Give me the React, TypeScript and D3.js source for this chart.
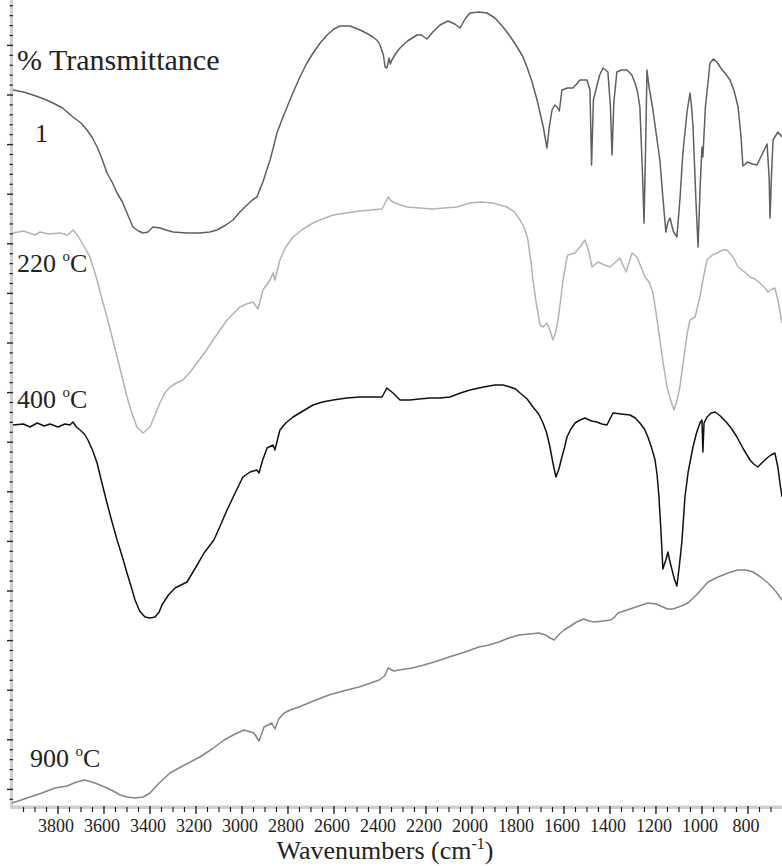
import { useEffect, useRef } from 'react'
import * as d3 from 'd3'

// x axis tick labels (cm-1)
const majorWavenumbers = [3800, 3600, 3400, 3200, 3000, 2800, 2600, 2400, 2200, 2000, 1800, 1600, 1400, 1200, 1000, 800]

// [wavenumber, transmittance (offset, a.u.)]
const sample1: [number, number][] = [
  [3996, 71.7], [3950, 71.5], [3909, 71.2], [3860, 70.8], [3822, 70.4], [3780, 69.9], [3735, 69.0],
  [3700, 68.4], [3674, 67.7], [3650, 66.9], [3630, 66.0], [3610, 64.9], [3587, 63.4], [3565, 62.5],
  [3543, 61.4], [3520, 60.5], [3500, 59.4], [3474, 58.0], [3450, 57.6], [3430, 57.4], [3409, 57.5],
  [3387, 58.0], [3357, 57.9], [3330, 57.7], [3300, 57.5], [3239, 57.4], [3183, 57.4], [3140, 57.5],
  [3109, 57.7], [3070, 58.2], [3039, 58.7], [3005, 59.6], [2978, 60.2], [2955, 60.7], [2935, 61.0],
  [2920, 61.9], [2909, 62.5], [2895, 63.5], [2878, 64.7], [2862, 66.1], [2848, 67.4], [2825, 68.8],
  [2804, 70.0], [2775, 71.6], [2748, 73.0], [2720, 74.3], [2691, 75.4], [2660, 76.4], [2630, 77.2],
  [2600, 77.8], [2574, 78.1], [2530, 78.1], [2487, 77.7], [2460, 77.4], [2430, 77.0], [2410, 76.6],
  [2400, 76.2], [2385, 75.2], [2378, 74.0], [2370, 73.9], [2360, 74.9], [2355, 74.3], [2348, 74.7],
  [2330, 75.4], [2313, 75.9], [2280, 76.6], [2239, 77.2], [2220, 77.2], [2196, 76.8], [2170, 77.5],
  [2139, 78.2], [2104, 78.6], [2075, 78.3], [2052, 77.9], [2030, 78.8], [2009, 79.4], [1970, 79.5],
  [1935, 79.4], [1900, 78.9], [1865, 78.0], [1835, 77.1], [1804, 76.0], [1780, 75.1], [1761, 74.0],
  [1740, 72.6], [1717, 70.7], [1700, 69.0], [1690, 68.0], [1674, 65.9], [1665, 67.8], [1652, 69.7],
  [1640, 70.2], [1630, 70.0], [1620, 69.6], [1609, 71.7], [1585, 71.9], [1561, 71.9], [1545, 72.3],
  [1530, 72.7], [1500, 72.7], [1487, 71.7], [1480, 64.2], [1472, 70.7], [1445, 73.2], [1430, 73.9],
  [1409, 73.5], [1398, 70.0], [1391, 65.2], [1383, 70.5], [1370, 73.5], [1350, 73.7], [1326, 73.7],
  [1305, 73.2], [1291, 72.4], [1280, 71.5], [1270, 70.0], [1258, 63.0], [1252, 58.4], [1245, 66.0],
  [1239, 73.7], [1230, 72.0], [1213, 69.7], [1200, 67.5], [1183, 64.7], [1170, 61.0], [1157, 57.5],
  [1148, 58.5], [1139, 58.9], [1125, 57.6], [1109, 57.0], [1095, 61.0], [1083, 65.4], [1065, 69.5],
  [1052, 71.4], [1045, 70.0], [1039, 68.0], [1025, 60.0], [1017, 56.0], [1008, 62.0], [1000, 66.0],
  [996, 65.0], [985, 70.0], [965, 74.4], [950, 74.8], [935, 74.5], [915, 73.8], [900, 73.4],
  [878, 72.7], [860, 71.6], [843, 70.0], [830, 67.0], [822, 64.1], [810, 64.3], [804, 64.5],
  [780, 64.3], [761, 64.2], [740, 65.2], [717, 66.3], [708, 63.0], [704, 58.9], [698, 63.0],
  [691, 66.7], [670, 67.5], [652, 67.0]
]

const sample220: [number, number][] = [
  [3996, 57.4], [3950, 57.6], [3900, 57.2], [3878, 57.5], [3840, 57.3], [3791, 57.4], [3760, 57.2],
  [3748, 57.4], [3735, 57.7], [3713, 57.1], [3683, 55.9], [3661, 55.0], [3630, 52.7], [3610, 50.9],
  [3587, 49.0], [3565, 47.0], [3543, 45.0], [3520, 42.9], [3500, 41.0], [3480, 39.5], [3457, 38.0],
  [3430, 37.4], [3400, 38.0], [3380, 39.1], [3357, 40.4], [3335, 41.4], [3313, 42.0], [3285, 42.4],
  [3257, 42.7], [3225, 43.5], [3196, 44.4], [3160, 45.5], [3126, 46.7], [3095, 47.7], [3065, 48.7],
  [3035, 49.4], [3009, 50.0], [2980, 50.3], [2952, 50.5], [2930, 49.8], [2909, 51.7], [2878, 52.7],
  [2865, 53.4], [2857, 52.7], [2835, 54.7], [2810, 56.0], [2778, 57.0], [2735, 57.8], [2691, 58.4],
  [2650, 58.8], [2604, 59.2], [2545, 59.4], [2487, 59.6], [2440, 59.7], [2391, 59.8], [2375, 60.5],
  [2365, 61.0], [2350, 60.6], [2335, 60.4], [2283, 60.0], [2230, 59.9], [2170, 59.8], [2120, 59.9],
  [2065, 60.0], [2009, 60.4], [1960, 60.5], [1909, 60.4], [1848, 60.0], [1815, 59.5], [1791, 58.7],
  [1770, 57.8], [1757, 56.7], [1745, 54.8], [1735, 52.7], [1720, 50.3], [1704, 48.2], [1690, 48.0],
  [1674, 48.4], [1660, 47.6], [1648, 46.7], [1636, 47.5], [1626, 48.7], [1615, 50.6], [1604, 52.7],
  [1590, 54.6], [1583, 55.2], [1552, 55.4], [1530, 56.0], [1509, 56.7], [1495, 55.8], [1478, 54.0],
  [1452, 54.5], [1425, 54.2], [1400, 54.0], [1380, 54.4], [1357, 54.9], [1330, 53.5], [1304, 55.4],
  [1283, 55.0], [1265, 54.0], [1248, 53.0], [1230, 52.5], [1213, 51.4], [1200, 49.5], [1183, 46.7],
  [1168, 44.3], [1152, 42.0], [1135, 40.6], [1122, 39.7], [1110, 40.5], [1096, 42.0], [1085, 43.9],
  [1074, 45.7], [1063, 47.5], [1052, 48.7], [1030, 49.0], [1009, 51.0], [995, 52.8], [978, 54.7],
  [955, 55.2], [935, 55.4], [910, 55.7], [891, 55.7], [865, 55.0], [843, 54.0], [815, 53.5],
  [791, 53.0], [770, 52.8], [748, 52.4], [730, 52.0], [713, 51.5], [695, 51.8], [683, 51.9],
  [668, 50.5], [652, 48.4]
]

const sample400: [number, number][] = [
  [3996, 38.2], [3950, 38.3], [3922, 38.0], [3890, 38.4], [3860, 38.1], [3835, 38.3], [3800, 38.0],
  [3770, 38.3], [3748, 38.2], [3735, 38.5], [3720, 38.0], [3704, 37.7], [3685, 37.3], [3670, 36.7],
  [3650, 35.7], [3630, 34.4], [3610, 32.5], [3587, 30.4], [3565, 28.5], [3543, 26.7], [3520, 25.0],
  [3500, 23.4], [3480, 21.9], [3465, 20.7], [3445, 19.6], [3422, 19.0], [3400, 18.9], [3378, 19.0],
  [3360, 19.5], [3348, 20.2], [3320, 21.2], [3291, 21.9], [3265, 22.2], [3239, 22.5], [3200, 24.0],
  [3165, 25.4], [3122, 26.7], [3095, 28.1], [3065, 29.7], [3030, 31.4], [2996, 33.0], [2965, 33.5],
  [2935, 33.7], [2926, 33.4], [2910, 34.7], [2891, 35.9], [2865, 36.2], [2857, 35.7], [2835, 37.7],
  [2810, 38.4], [2778, 39.0], [2735, 39.6], [2691, 40.2], [2650, 40.5], [2604, 40.7], [2545, 40.9],
  [2487, 41.0], [2440, 41.0], [2391, 41.0], [2370, 41.9], [2343, 41.4], [2313, 40.7], [2270, 40.7],
  [2230, 40.8], [2183, 40.9], [2140, 40.9], [2096, 41.0], [2050, 41.4], [2009, 41.7], [1950, 42.0],
  [1900, 42.2], [1865, 42.2], [1835, 42.0], [1810, 41.8], [1791, 41.4], [1760, 40.8], [1735, 40.0],
  [1710, 39.3], [1691, 38.4], [1675, 37.4], [1661, 36.0], [1648, 34.4], [1635, 33.0], [1622, 33.8],
  [1609, 35.0], [1597, 36.0], [1587, 37.0], [1570, 37.8], [1552, 38.4], [1530, 38.7], [1509, 38.9],
  [1480, 38.6], [1457, 38.5], [1435, 38.3], [1413, 38.2], [1400, 38.8], [1387, 39.4], [1350, 39.3],
  [1313, 39.2], [1290, 38.9], [1270, 38.4], [1250, 37.8], [1235, 37.0], [1220, 36.0], [1204, 34.7],
  [1195, 33.2], [1187, 31.0], [1178, 27.5], [1170, 23.8], [1163, 24.3], [1157, 24.7], [1148, 25.5],
  [1140, 24.6], [1130, 23.7], [1120, 22.8], [1109, 22.1], [1098, 24.2], [1087, 26.6], [1074, 31.0],
  [1060, 33.5], [1039, 36.0], [1025, 37.3], [1009, 38.4], [1000, 38.7], [996, 35.5], [991, 38.4],
  [978, 39.0], [960, 39.4], [943, 39.5], [920, 39.1], [891, 38.4], [870, 37.8], [848, 37.0],
  [820, 35.8], [791, 34.7], [775, 34.3], [757, 34.0], [740, 34.4], [717, 34.9], [700, 35.2],
  [683, 35.4], [670, 34.0], [661, 32.4], [652, 31.0]
]

const sample900: [number, number][] = [
  [4000, 0.4], [3960, 0.7], [3922, 1.0], [3870, 1.4], [3813, 1.9], [3760, 2.1], [3720, 2.5],
  [3683, 2.7], [3640, 2.4], [3596, 2.0], [3560, 1.6], [3530, 1.2], [3500, 1.0], [3465, 0.9],
  [3430, 1.0], [3400, 1.4], [3360, 2.4], [3313, 3.4], [3250, 4.2], [3183, 5.0], [3130, 5.8],
  [3078, 6.7], [3030, 7.3], [2991, 7.7], [2948, 7.4], [2926, 6.6], [2904, 8.0], [2870, 8.4],
  [2857, 7.8], [2840, 8.8], [2817, 9.4], [2790, 9.7], [2752, 10.0], [2690, 10.6], [2622, 11.2],
  [2560, 11.6], [2491, 12.0], [2440, 12.4], [2404, 12.7], [2380, 13.1], [2365, 13.9], [2340, 13.6],
  [2317, 13.7], [2260, 13.9], [2209, 14.2], [2150, 14.6], [2100, 15.0], [2030, 15.5], [1970, 16.0],
  [1925, 16.2], [1883, 16.5], [1840, 16.9], [1796, 17.2], [1750, 17.3], [1709, 17.4], [1680, 17.2],
  [1660, 16.9], [1643, 16.7], [1620, 17.3], [1600, 17.7], [1578, 18.0], [1545, 18.5], [1513, 18.8],
  [1490, 18.6], [1470, 18.5], [1430, 18.6], [1396, 18.7], [1380, 19.0], [1365, 19.4], [1300, 19.9],
  [1235, 20.4], [1200, 20.3], [1170, 20.0], [1150, 19.8], [1126, 19.8], [1090, 20.1], [1061, 20.4],
  [1020, 21.3], [974, 22.5], [940, 22.9], [909, 23.2], [875, 23.5], [843, 23.7], [810, 23.7],
  [778, 23.5], [745, 23.0], [713, 22.4], [680, 21.6], [652, 20.7]
]

const seriesData = [sample1, sample220, sample400, sample900]
const seriesColors = ['#5f5f5f', '#b3b3b3', '#111111', '#858585']

export default function App() {
  const svgRef = useRef<SVGSVGElement>(null)

  useEffect(() => {
    if (!svgRef.current) return
    const width = 782
    const height = 866
    const left = 12
    const bottom = 807
    const font = 'Liberation Serif'

    d3.select(svgRef.current).selectAll('*').remove()
    const svg = d3.select(svgRef.current).attr('width', width).attr('height', height)

    const x = d3.scaleLinear().domain([4000, 652]).range([left, width])
    const y = d3.scaleLinear().domain([0, 80.3]).range([bottom, 4])

    svg.append('defs').append('clipPath').attr('id', 'plot-clip')
      .append('rect').attr('x', left).attr('y', 0).attr('width', width - left).attr('height', bottom)

    // axis bands
    svg.append('rect').attr('x', 10).attr('y', 0).attr('width', 3).attr('height', bottom + 2).attr('fill', '#cfcfcf')
    svg.append('rect').attr('x', 10).attr('y', bottom - 1.5).attr('width', width - 10).attr('height', 3.5).attr('fill', '#cfcfcf')

    // y ticks (no labels)
    const yMajor = d3.range(1.76, 80.3, 4.96)
    const yMinor = d3.range(0.768, 80.3, 0.992).filter(v => !yMajor.some(m => Math.abs(m - v) < 0.1))
    svg.append('g').selectAll('line').data(yMinor).join('line')
      .attr('x1', 9.5).attr('x2', 13).attr('y1', d => y(d)).attr('y2', d => y(d))
      .attr('stroke', '#222').attr('stroke-width', 1.2)
    svg.append('g').selectAll('line').data(yMajor).join('line')
      .attr('x1', 7).attr('x2', 13).attr('y1', d => y(d)).attr('y2', d => y(d))
      .attr('stroke', '#222').attr('stroke-width', 1.4)

    // x ticks
    const xMinor = d3.range(700, 4000, 50).filter(v => v % 200 !== 0)
    svg.append('g').selectAll('line').data(xMinor).join('line')
      .attr('x1', d => x(d)).attr('x2', d => x(d)).attr('y1', bottom).attr('y2', bottom + 5)
      .attr('stroke', '#222').attr('stroke-width', 1.2)
    svg.append('g').selectAll('line').data(majorWavenumbers).join('line')
      .attr('x1', d => x(d)).attr('x2', d => x(d)).attr('y1', bottom - 1).attr('y2', bottom + 7)
      .attr('stroke', '#222').attr('stroke-width', 1.4)

    svg.append('g').selectAll('text').data(majorWavenumbers).join('text')
      .attr('x', d => x(d) - 2).attr('y', 832)
      .attr('text-anchor', 'middle')
      .attr('font-family', font).attr('font-size', 18).attr('fill', '#222')
      .text(d => d)

    const title = svg.append('text').attr('x', 385).attr('y', 859).attr('text-anchor', 'middle')
      .attr('font-family', font).attr('font-size', 26).attr('fill', '#222')
    title.append('tspan').text('Wavenumbers (cm')
    title.append('tspan').attr('dy', -10).attr('font-size', 16).text('-1')
    title.append('tspan').attr('dy', 10).text(')')

    // spectra
    const line = d3.line<[number, number]>().x(d => x(d[0])).y(d => y(d[1]))
    svg.append('g').attr('clip-path', 'url(#plot-clip)')
      .selectAll('path').data(seriesData).join('path')
      .attr('d', d => line(d))
      .attr('fill', 'none')
      .attr('stroke', (d, i) => seriesColors[i])
      .attr('stroke-width', 1.5)
      .attr('stroke-linejoin', 'round')

    // labels
    const label = (tx: number, ty: number, main: string, degC: boolean) => {
      const t = svg.append('text').attr('x', tx).attr('y', ty)
        .attr('font-family', font).attr('font-size', 26).attr('fill', '#222')
      t.append('tspan').text(main)
      if (degC) {
        t.append('tspan').attr('dy', -11).attr('font-size', 15).text('o')
        t.append('tspan').attr('dy', 11).text('C')
      }
    }
    svg.append('text').attr('x', 17).attr('y', 70)
      .attr('font-family', font).attr('font-size', 30).attr('fill', '#222')
      .text('% Transmittance')
    label(35, 142, '1', false)
    label(17, 272, '220 ', true)
    label(17, 408, '400 ', true)
    label(30, 767, '900 ', true)
  }, [])

  return (
    <div style={{ position: 'absolute', left: 0, top: 0 }}>
      <svg ref={svgRef}></svg>
    </div>
  )
}
